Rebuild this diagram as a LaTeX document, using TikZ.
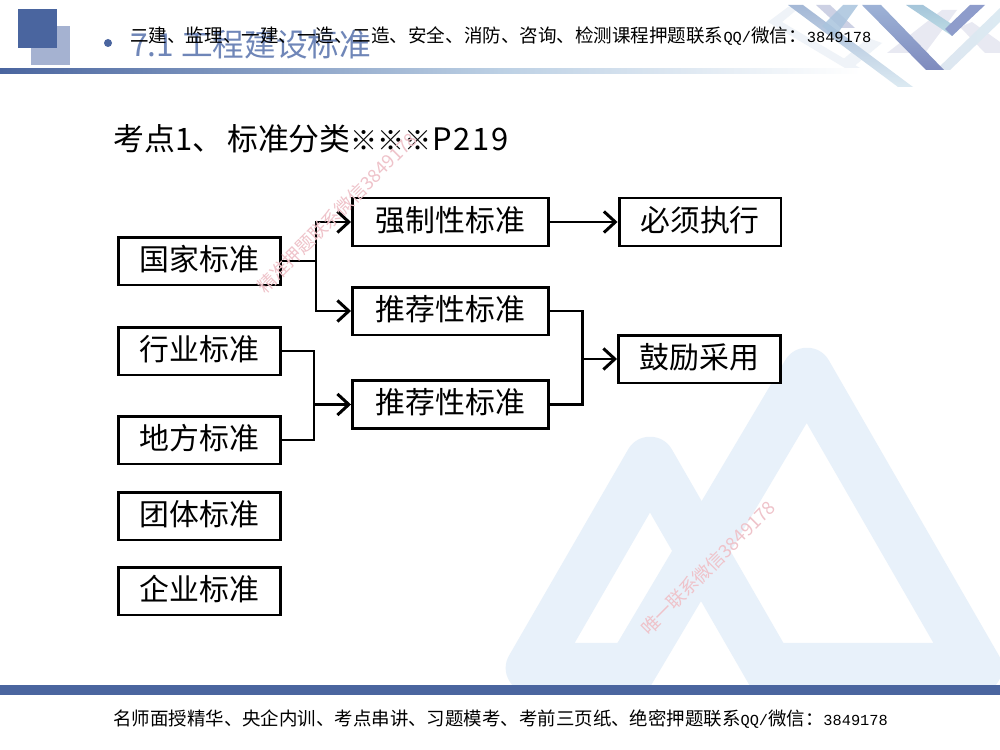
\documentclass[tikz,border=0pt]{standalone}
\usepackage{fontspec}
\setmainfont{Noto Sans CJK SC}
\newfontfamily\numfont[Scale=0.83]{Liberation Mono}
\newfontfamily\headfont[LetterSpace=6]{Noto Sans CJK SC}
\usetikzlibrary{arrows.meta}
\definecolor{bandblue}{HTML}{4A659F}
\definecolor{paleblue}{HTML}{A5B2D1}
\definecolor{barmid}{HTML}{BCD0E4}
\definecolor{peakblue}{HTML}{E8F1FA}
\definecolor{markred}{HTML}{EFC3CA}
\definecolor{titleblue}{HTML}{6F86B8}
\definecolor{stripea}{HTML}{A4B8D6}
\definecolor{stripeb}{HTML}{DCEAF2}
\definecolor{stripec}{HTML}{9DB2D6}
\definecolor{striped}{HTML}{7F8BBE}
\definecolor{stripee}{HTML}{A5C5DA}
\definecolor{stripef}{HTML}{BFDDE5}
\definecolor{stripeg}{HTML}{8E9CCB}
\definecolor{stripeh}{HTML}{C5C9E0}
\definecolor{stripei}{HTML}{A9C4DE}
\definecolor{faintblue}{HTML}{EFF3F8}
\definecolor{faintlilac}{HTML}{E8E9F2}
\definecolor{faintsky}{HTML}{DDE6F0}
\tikzset{
	stdbox/.style={draw=black,line width=1.7pt,fill=white,inner sep=0pt,minimum width=3.24cm,minimum height=0.96cm,text height=14pt,text depth=3.5pt,font=\fontsize{17}{20}\selectfont},
	wdbox/.style={stdbox,minimum width=3.92cm},
	conn/.style={draw=black,line width=1.7pt},
	smalltext/.style={inner sep=0pt,anchor=west,font=\fontsize{10.55}{12}\selectfont},
	peak/.style={draw=peakblue,line width=1.01cm,line join=round},
	markup/.style={text=markred,inner sep=0pt,rotate=45,font=\fontsize{10.4}{12}\selectfont}
}
\begin{document}
\begin{tikzpicture}[line cap=butt,line join=miter,>={Straight Barb[length=6.5pt,width=12pt,line width=1.7pt]},x=0.02cm,y=-0.02cm]
	\useasboundingbox (0,0) rectangle (1000,750);
	\fill[white] (0,0) rectangle (1000,750);
	% sfondo
	\begin{scope}
		\clip (480,300) rectangle (1000,690);
		\draw[peak] (640,668) -- (531,668) -- (650,462) -- (790,705);
		\draw[peak] (610,705) -- (807,373) -- (977,668) -- (769,668);
	\end{scope}
	% testata
	\fill[paleblue] (31,26) rectangle (70,65);
	\fill[bandblue] (18,9) rectangle (57,48);
	\shade[left color=bandblue,right color=barmid] (0,69) rectangle (500,74);
	\shade[left color=barmid,right color=white] (500,69) rectangle (860,74);
	\fill[bandblue] (108,43) circle (4);
	% strisce
	\fill[faintblue] (788,7) -- (800,7) -- (782,22) -- (860,68) -- (845,68) -- (768,22) -- cycle;
	\fill[faintblue] (852,68) -- (840,62) -- (868,38) -- (882,43) -- cycle;
	\fill[faintlilac] (887,53) -- (925,53) -- (957,10) -- (942,10) -- cycle;
	\fill[faintlilac] (960,27) -- (972,22) -- (1000,42) -- (1000,53) -- (985,53) -- cycle;
	\shade[left color=faintsky,right color=stripeb] (936,70) -- (950,70) -- (1000,22) -- (1000,8) -- cycle;
	\shade[top color=stripea,bottom color=stripeb] (788,5) -- (803,5) -- (913,87) -- (898,87) -- cycle;
	\fill[stripeh,opacity=.85] (816,5) -- (830,5) -- (855,28) -- (841,28) -- cycle;
	\fill[stripei,opacity=.85] (858,5) -- (843,5) -- (822,26) -- (835,37) -- cycle;
	\shade[top color=stripec,bottom color=striped] (862,5) -- (881,5) -- (944,70) -- (926,70) -- cycle;
	\shade[top color=stripee,bottom color=stripef] (906,5) -- (923,5) -- (959,29) -- (952,36) -- cycle;
	\fill[stripeg] (985,5) -- (970,5) -- (945,29) -- (952,36) -- cycle;
	% titoli
	\node[inner sep=0pt,anchor=west,text=titleblue,font=\fontsize{18}{22}\selectfont] (title) at (130,45) {7.1 工程建设标准};
	\node[smalltext] (toptext) at (130,36) {二建、监理、一建、一造、二造、安全、消防、咨询、检测课程押题联系{\numfont QQ/}微信：{\numfont 3849178}};
	\node[inner sep=0pt,anchor=west,font=\fontsize{17.6}{22}\selectfont] (head) at (113,139) {考点1、\kern2.2pt 标准分类{\fontsize{15.4}{22}\selectfont ※※※}{\headfont P219}};
	% caselle
	\node[stdbox] (gb) at (199.5,261) {国家标准};
	\node[stdbox] (hy) at (199.5,351) {行业标准};
	\node[stdbox] (df) at (199.5,440) {地方标准};
	\node[stdbox] (tt) at (199.5,516) {团体标准};
	\node[stdbox] (qy) at (199.5,591) {企业标准};
	\node[wdbox] (qz) at (450.5,222) {强制性标准};
	\node[wdbox] (tja) at (450.5,311) {推荐性标准};
	\node[wdbox] (tjb) at (450.5,404.5) {推荐性标准};
	\node[stdbox] (bx) at (700,222) {必须执行};
	\node[stdbox] (gl) at (699.5,359) {鼓励采用};
	\coordinate (gbfork) at (316,261);
	\coordinate (hyfork) at (314,404.5);
	\coordinate (glfork) at (582,359);
	% frecce
	\draw[conn,->] (gb.east) -- (gbfork) |- (qz.west);
	\draw[conn,->] (gbfork) |- (tja.west);
	\draw[conn] (hy.east) -| (hyfork);
	\draw[conn] (df.east) -| (hyfork);
	\draw[conn,->] (hyfork) -- (tjb.west);
	\draw[conn,->] (qz.east) -- (bx.west);
	\draw[conn] (tja.east) -| (glfork);
	\draw[conn] (tjb.east) -| (glfork);
	\draw[conn,->] (glfork) -- (gl.west);
	\node[markup] (markone) at (337,213) {精准押题联系微信3849178};
	\node[markup] (marktwo) at (708,568) {唯一联系微信3849178};
	% piede
	\fill[bandblue] (0,685) rectangle (1000,695);
	\node[smalltext,font=\fontsize{10.5}{12}\selectfont] (foottext) at (113,719) {名师面授精华、央企内训、考点串讲、习题模考、考前三页纸、绝密押题联系{\numfont QQ/}微信：{\numfont 3849178}};
\end{tikzpicture}
\end{document}
